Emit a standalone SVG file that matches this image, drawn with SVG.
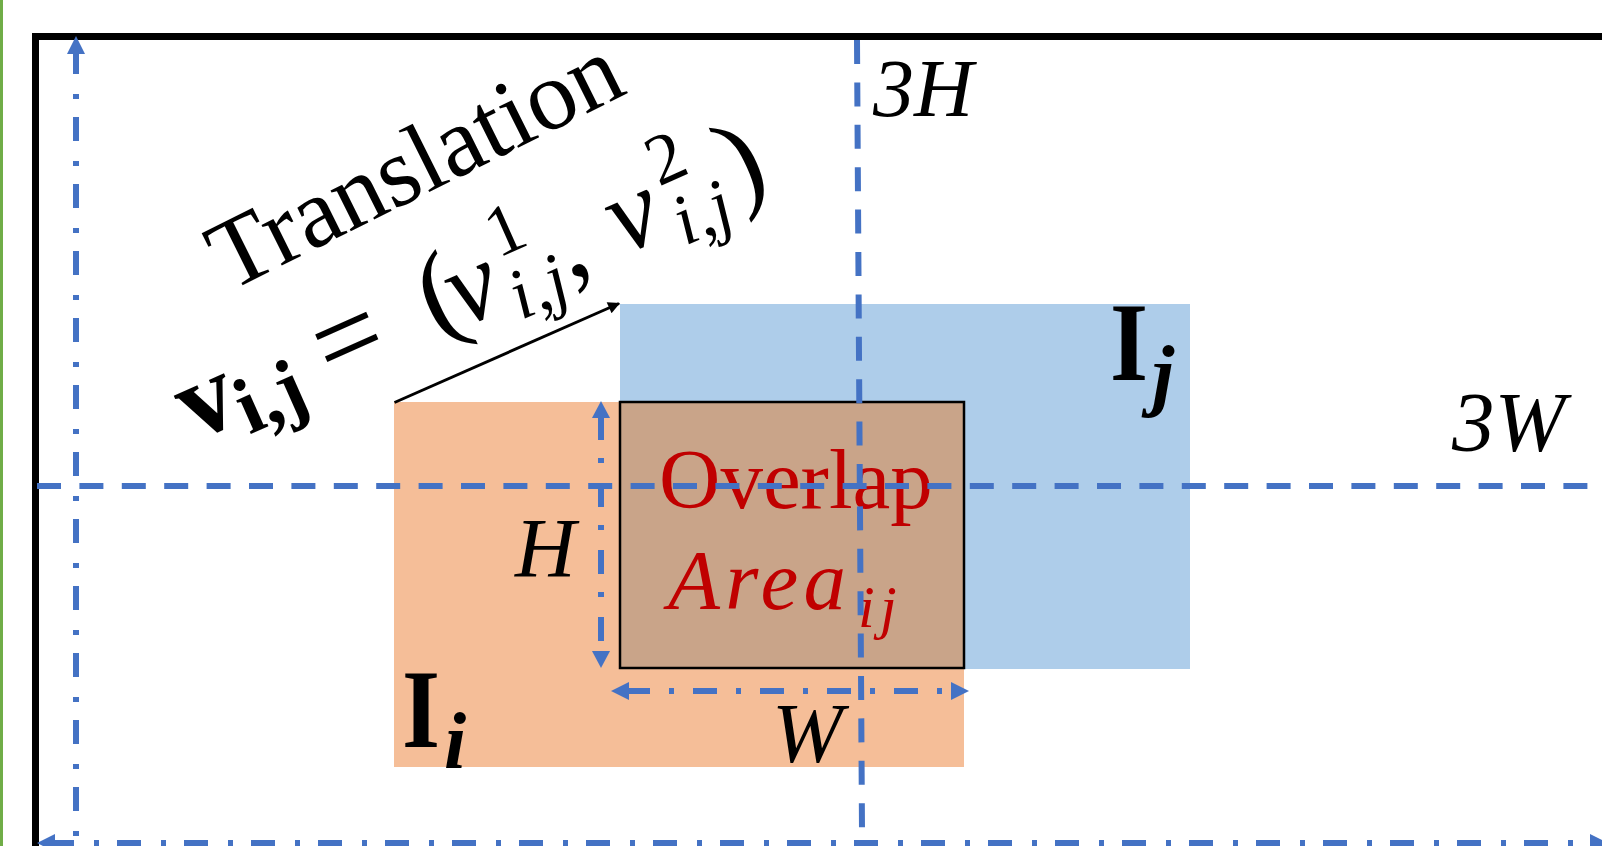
<svg xmlns="http://www.w3.org/2000/svg" width="1602" height="846" viewBox="0 0 1602 846">
<defs>
<style>
.t{font-family:"Liberation Serif","Times New Roman",serif;fill:#000}
.it{font-style:italic}
.bd{font-weight:bold}
.red{fill:#C00000}
.ah{fill:#4472C4}
.dd{stroke:#4472C4;stroke-width:6;fill:none}
.dash{stroke:#4472C4;stroke-width:6;fill:none;stroke-dasharray:24 18.4}
</style>
<marker id="blk" viewBox="0 0 10 10" refX="9" refY="5" markerWidth="5" markerHeight="4" orient="auto" markerUnits="strokeWidth">
<path d="M0,0 L10,5 L0,10 z" fill="#000"/>
</marker>
</defs>
<rect width="1602" height="846" fill="#fff"/>
<line x1="1.5" y1="0" x2="1.5" y2="846" stroke="#70AD47" stroke-width="3"/>
<path d="M35.5,846 V36.5 H1602" fill="none" stroke="#000" stroke-width="7"/>

<g id="image-i">
<rect x="394" y="402" width="570" height="365" fill="#F5BE98"/>
</g>
<g id="image-j">
<rect x="620" y="304" width="570" height="365" fill="#AECDEA"/>
</g>
<g id="overlap">
<rect x="620" y="402" width="344" height="266" fill="#C9A489" stroke="#000" stroke-width="2.5"/>
<text class="t red" x="659" y="508" font-size="85">Overlap</text>
<text class="t it red" x="668" y="609" font-size="85" textLength="178" lengthAdjust="spacing">Area</text>
<text class="t it red" x="858" y="627" font-size="60">i</text>
<text class="t it red" x="880" y="627" font-size="60">j</text>
</g>
<g id="label-Ii">
<text class="t bd" x="402" y="747" font-size="112" textLength="38" lengthAdjust="spacingAndGlyphs">I</text>
<text class="t bd it" x="444" y="768" font-size="80">i</text>
</g>
<g id="label-Ij">
<text class="t bd" x="1110" y="380" font-size="112" textLength="38" lengthAdjust="spacingAndGlyphs">I</text>
<text class="t bd it" x="1152" y="401" font-size="80">j</text>
</g>
<g id="dims">
<text class="t it" x="873" y="116" font-size="82">3H</text>
<text class="t it" x="1452" y="451" font-size="85">3W</text>
<text class="t it" x="515" y="577" font-size="84">H</text>
<text class="t it" x="772" y="762" font-size="85">W</text>
</g>
<g id="translation-label">
<text class="t" transform="translate(229,292) rotate(-26.5)" font-size="99">Translation</text>
<g transform="translate(190,437) rotate(-24)">
<text class="t bd" x="2" y="6" font-size="110">v</text>
<text class="t bd" x="55" y="22" font-size="80">i,j</text>
<text class="t" x="150" y="12" font-size="120">=</text>
<text class="t" x="266" y="8" font-size="115">(</text>
<text class="t it" x="294" y="11" font-size="110">v</text>
<text class="t" x="354" y="-38" font-size="72">1</text>
<text class="t it" x="350" y="28" font-size="72">i,j</text>
<text class="t" x="410" y="11" font-size="110">,</text>
<text class="t it" x="470" y="10" font-size="110">v</text>
<text class="t" x="530" y="-38" font-size="72">2</text>
<text class="t it" x="530" y="27" font-size="72">i,j</text>
<text class="t" x="596" y="8" font-size="115">)</text>
</g>
</g>

<g id="connectors">
<line x1="394.5" y1="402.5" x2="619" y2="303.5" stroke="#000" stroke-width="3" marker-end="url(#blk)"/>
<path class="dash" d="M37,486 H1602"/>
<path class="dash" d="M857,40 L862,830"/>
<path class="dd" stroke-dasharray="24 20 5 18" d="M76,50 V846"/>
<polygon class="ah" points="76,36 67,54 85,54"/>
<path class="dd" stroke-dasharray="24 20 5 18" d="M50,843 H1602"/>
<polygon class="ah" points="37,843 55,834 55,852"/>
<polygon class="ah" points="1608,843 1590,834 1590,852"/>
<path class="dd" stroke-dasharray="24 18 5 20" d="M601,416 V652"/>
<polygon class="ah" points="601,401 592,418 610,418"/>
<polygon class="ah" points="601,668 592,651 610,651"/>
<path class="dd" stroke-dasharray="24 19 5 19" d="M626,691 H952"/>
<polygon class="ah" points="611,691 629,682 629,700"/>
<polygon class="ah" points="969,691 951,682 951,700"/>
</g>
</svg>
